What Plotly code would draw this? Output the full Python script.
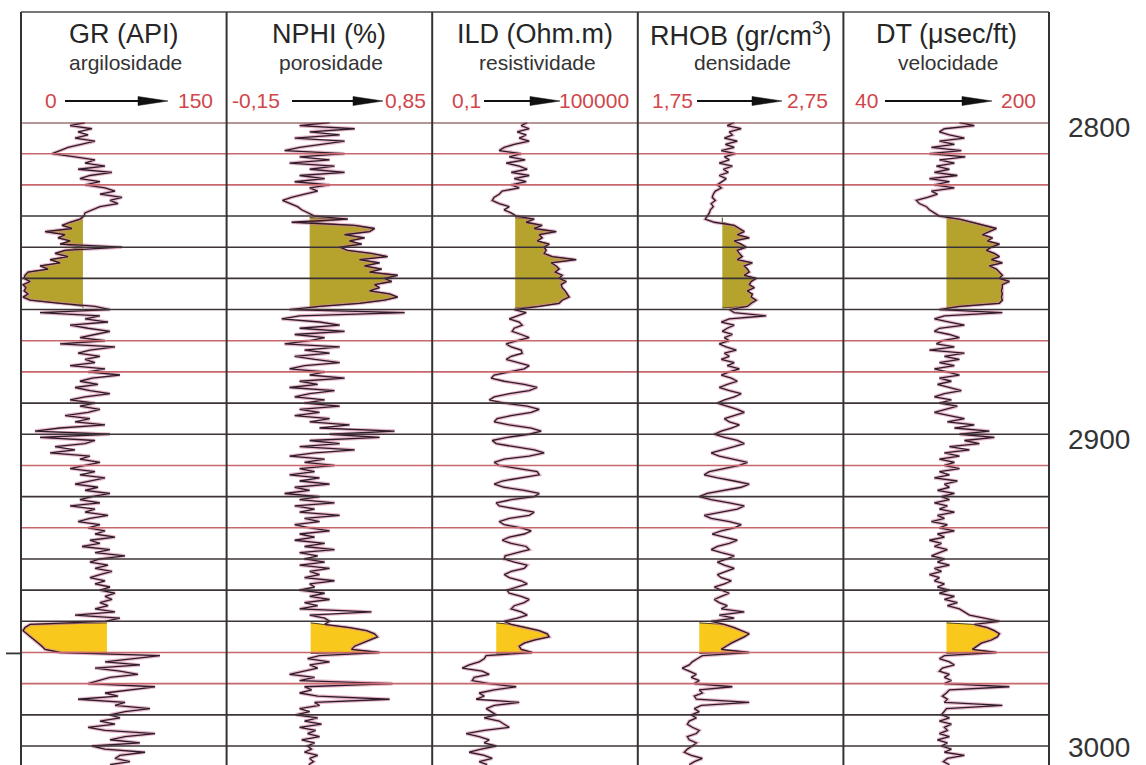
import math
import plotly.graph_objects as go

W, H = 1146, 765

# Depth samples (m), one per metre
depth = list(range(2800, 3007))

# Gamma ray (API)
gr = [46.7, 35.8, 51.8, 41.6, 48.9, 39.4, 54.0, 43.0, 34.3, 28.5,
      22.6, 39.4, 54.0, 46.7, 61.3, 41.6, 66.4, 50.3, 43.0, 57.6,
      46.7, 61.3, 68.6, 57.6, 73.7, 64.9, 70.8, 57.6, 51.8, 46.7,
      46.0, 43.0, 35.8, 29.9, 37.2, 17.5, 32.1, 27.0, 35.8, 28.5,
      73.7, 32.1, 24.8, 34.3, 21.2, 28.5, 13.9, 19.7, 5.1, 2.9,
      2.2, 6.6, 1.5, 3.6, 2.2, 5.1, 1.5, 6.6, 28.5, 54.0,
      64.9, 13.9, 57.6, 46.7, 63.5, 35.8, 48.9, 64.9, 54.0, 43.0,
      61.3, 28.5, 68.6, 50.3, 41.6, 57.6, 46.7, 54.0, 35.8, 61.3,
      48.9, 72.2, 51.8, 43.0, 56.2, 39.4, 50.3, 64.9, 46.7, 35.8,
      54.0, 43.0, 57.6, 48.9, 32.1, 50.3, 39.4, 61.3, 28.5, 10.2,
      64.9, 13.9, 54.0, 46.7, 24.8, 39.4, 21.2, 50.3, 43.0, 57.6,
      46.7, 35.8, 54.0, 43.0, 61.3, 50.3, 39.4, 56.2, 46.7, 64.9,
      51.8, 43.0, 57.6, 35.8, 54.0, 46.7, 63.5, 50.3, 41.6, 57.6,
      48.9, 61.3, 54.0, 68.6, 50.3, 57.6, 44.5, 64.9, 54.0, 75.9,
      57.6, 50.3, 63.5, 54.0, 66.4, 57.6, 50.3, 61.3, 54.0, 64.9,
      57.6, 68.6, 61.3, 66.4, 57.6, 63.5, 54.0, 68.6, 39.4, 72.2,
      61.3, 6.6, 2.9, 1.5, 4.4, 6.6, 10.2, 12.4, 15.3, 17.5,
      28.5, 101.4, 79.5, 61.3, 86.8, 54.0, 72.2, 85.4, 64.9, 57.6,
      48.9, 97.8, 79.5, 61.3, 70.8, 41.6, 75.9, 68.6, 94.1, 75.9,
      64.9, 72.2, 57.6, 68.6, 48.9, 61.3, 97.8, 75.9, 64.9, 86.8,
      51.8, 61.3, 90.5, 72.2, 68.6, 79.5, 64.9]

# Neutron porosity (fraction)
nphi = [0.351, 0.205, 0.473, 0.254, 0.400, 0.181, 0.424, 0.302, 0.205, 0.132,
        0.424, 0.205, 0.351, 0.156, 0.375, 0.254, 0.424, 0.205, 0.327, 0.181,
        0.351, 0.254, 0.293, 0.229, 0.166, 0.122, 0.156, 0.195, 0.215, 0.244,
        0.278, 0.439, 0.166, 0.473, 0.570, 0.546, 0.424, 0.521, 0.448, 0.507,
        0.400, 0.439, 0.555, 0.633, 0.497, 0.594, 0.521, 0.604, 0.546, 0.682,
        0.618, 0.653, 0.570, 0.594, 0.546, 0.643, 0.682, 0.618, 0.497, 0.302,
        0.156, 0.716, 0.205, 0.118, 0.302, 0.400, 0.205, 0.424, 0.181, 0.327,
        0.254, 0.132, 0.400, 0.229, 0.351, 0.181, 0.278, 0.400, 0.229, 0.156,
        0.327, 0.254, 0.424, 0.205, 0.293, 0.156, 0.375, 0.254, 0.181, 0.327,
        0.229, 0.400, 0.205, 0.302, 0.181, 0.351, 0.254, 0.448, 0.302, 0.667,
        0.351, 0.594, 0.254, 0.400, 0.205, 0.473, 0.278, 0.156, 0.327, 0.229,
        0.375, 0.205, 0.278, 0.156, 0.302, 0.205, 0.351, 0.181, 0.254, 0.132,
        0.302, 0.205, 0.375, 0.181, 0.278, 0.205, 0.400, 0.229, 0.302, 0.181,
        0.254, 0.351, 0.205, 0.278, 0.181, 0.327, 0.229, 0.375, 0.205, 0.293,
        0.229, 0.327, 0.205, 0.351, 0.254, 0.302, 0.229, 0.375, 0.254, 0.278,
        0.205, 0.327, 0.254, 0.351, 0.229, 0.293, 0.205, 0.555, 0.254, 0.327,
        0.351, 0.327, 0.448, 0.531, 0.570, 0.584, 0.546, 0.507, 0.473, 0.458,
        0.594, 0.302, 0.244, 0.351, 0.254, 0.293, 0.229, 0.156, 0.278, 0.205,
        0.657, 0.229, 0.263, 0.205, 0.293, 0.643, 0.278, 0.302, 0.205, 0.254,
        0.186, 0.293, 0.229, 0.312, 0.205, 0.283, 0.244, 0.302, 0.215, 0.278,
        0.244, 0.263, 0.229, 0.293, 0.254, 0.273, 0.249]

# Deep induction resistivity (ohm.m)
ild = [59.2, 39.6, 67.7, 30.2, 55.3, 34.6, 67.7, 24.7, 12.6, 9.02,
       39.6, 17.7, 51.8, 14.4, 34.6, 59.2, 20.2, 67.7, 24.7, 55.3,
       20.2, 34.6, 11.0, 9.02, 6.45, 5.64, 9.02, 17.7, 12.6, 20.2,
       28.3, 94.8, 55.3, 162, 94.8, 416, 133, 162, 116, 260,
       185, 212, 185, 318, 1592, 297, 416, 508, 389, 622,
       508, 813, 582, 622, 761, 871, 995, 622, 508, 133,
       24.7, 55.3, 30.2, 17.7, 34.6, 42.3, 24.7, 21.6, 39.6, 67.7,
       30.2, 14.4, 20.2, 39.6, 42.3, 20.2, 14.4, 30.2, 67.7, 48.4,
       15.4, 6.45, 5.27, 12.6, 48.4, 116, 67.7, 17.7, 6.45, 4.61,
       12.6, 59.2, 133, 77.4, 20.2, 7.89, 6.45, 17.7, 77.4, 152,
       67.7, 15.4, 5.64, 7.38, 24.7, 94.8, 185, 67.7, 12.6, 6.45,
       9.02, 34.6, 116, 133, 39.6, 11.0, 6.45, 12.6, 48.4, 133,
       94.8, 20.2, 7.38, 9.02, 30.2, 94.8, 67.7, 17.7, 9.02, 12.6,
       39.6, 77.4, 48.4, 17.7, 11.0, 20.2, 55.3, 67.7, 30.2, 13.5,
       12.6, 24.7, 59.2, 48.4, 20.2, 12.6, 17.7, 39.6, 59.2, 30.2,
       15.4, 17.7, 39.6, 67.7, 48.4, 24.7, 20.2, 39.6, 59.2, 30.2,
       12.6, 20.2, 59.2, 133, 227, 260, 94.8, 48.4, 34.6, 39.6,
       82.8, 3.77, 3.29, 2.35, 1.20, 0.750, 2.88, 4.61, 1.68, 1.47,
       4.61, 28.3, 6.45, 2.35, 3.29, 1.92, 34.6, 6.45, 3.77, 5.27,
       7.38, 3.29, 9.02, 12.6, 17.7, 3.29, 0.98, 2.35, 4.61, 3.29,
       7.38, 2.69, 1.20, 3.29, 5.64, 2.35, 4.03]

# Bulk density (g/cm3)
rhob = [2.219, 2.185, 2.253, 2.195, 2.210, 2.171, 2.234, 2.176, 2.219, 2.156,
        2.224, 2.171, 2.195, 2.146, 2.210, 2.166, 2.190, 2.146, 2.180, 2.156,
        2.137, 2.156, 2.127, 2.117, 2.112, 2.127, 2.107, 2.117, 2.103, 2.098,
        2.088, 2.078, 2.122, 2.219, 2.244, 2.268, 2.234, 2.292, 2.219, 2.253,
        2.278, 2.234, 2.244, 2.258, 2.234, 2.307, 2.268, 2.283, 2.292, 2.268,
        2.326, 2.302, 2.292, 2.317, 2.283, 2.307, 2.302, 2.326, 2.302, 2.283,
        2.195, 2.219, 2.375, 2.195, 2.156, 2.219, 2.185, 2.161, 2.210, 2.171,
        2.195, 2.146, 2.180, 2.229, 2.171, 2.195, 2.156, 2.219, 2.185, 2.244,
        2.195, 2.156, 2.205, 2.234, 2.185, 2.146, 2.195, 2.253, 2.219, 2.171,
        2.137, 2.185, 2.234, 2.268, 2.219, 2.171, 2.195, 2.244, 2.205, 2.156,
        2.122, 2.171, 2.234, 2.268, 2.219, 2.156, 2.107, 2.146, 2.219, 2.283,
        2.244, 2.171, 2.098, 2.073, 2.137, 2.219, 2.292, 2.253, 2.171, 2.088,
        2.049, 2.107, 2.195, 2.268, 2.234, 2.146, 2.073, 2.107, 2.195, 2.253,
        2.219, 2.156, 2.112, 2.171, 2.234, 2.195, 2.137, 2.107, 2.156, 2.219,
        2.185, 2.137, 2.171, 2.219, 2.180, 2.137, 2.156, 2.205, 2.171, 2.122,
        2.156, 2.195, 2.156, 2.122, 2.146, 2.185, 2.156, 2.268, 2.146, 2.219,
        2.107, 2.171, 2.219, 2.253, 2.292, 2.268, 2.234, 2.205, 2.180, 2.156,
        2.292, 2.064, 2.039, 2.015, 2.000, 1.966, 2.000, 2.035, 2.010, 2.049,
        2.025, 2.210, 2.049, 2.064, 2.025, 2.035, 2.292, 2.059, 2.025, 2.049,
        2.010, 2.035, 2.000, 1.991, 2.015, 2.049, 2.035, 1.991, 2.000, 2.035,
        2.015, 1.991, 1.976, 2.010, 2.064, 2.025, 2.000]

# Sonic transit time (us/ft)
dt = [130.3, 141.9, 118.6, 114.7, 122.5, 134.2, 114.7, 126.4, 108.5, 131.8,
      106.9, 134.9, 114.7, 126.4, 112.4, 122.5, 110.8, 128.7, 106.9, 122.5,
      110.8, 126.4, 108.5, 113.2, 105.4, 96.8, 99.1, 104.6, 106.9, 110.8,
      114.7, 130.3, 140.4, 149.7, 159.1, 153.6, 148.2, 156.0, 152.1, 161.4,
      155.2, 151.3, 157.5, 161.4, 155.2, 163.7, 153.6, 159.1, 161.4, 163.7,
      161.4, 169.2, 163.7, 163.7, 163.0, 163.7, 163.0, 163.7, 161.4, 130.3,
      114.7, 163.7, 118.6, 110.8, 122.5, 134.2, 114.7, 110.8, 122.5, 130.3,
      117.0, 112.4, 126.4, 106.9, 134.2, 118.6, 130.3, 114.7, 126.4, 110.8,
      120.9, 130.3, 114.7, 124.0, 113.2, 122.5, 131.8, 118.6, 110.8, 124.0,
      114.7, 128.7, 118.6, 110.8, 122.5, 134.2, 120.9, 141.9, 126.4, 153.6,
      130.3, 157.5, 134.2, 145.8, 122.5, 138.1, 118.6, 130.3, 114.7, 126.4,
      118.6, 130.3, 114.7, 122.5, 110.8, 128.7, 118.6, 122.5, 113.2, 126.4,
      116.3, 122.5, 110.8, 120.9, 114.7, 126.4, 113.2, 118.6, 108.5, 120.9,
      114.7, 126.4, 113.2, 118.6, 106.9, 116.3, 110.8, 120.9, 114.7, 108.5,
      118.6, 113.2, 122.5, 110.8, 116.3, 106.9, 114.7, 110.8, 118.6, 113.2,
      122.5, 114.7, 126.4, 118.6, 128.7, 120.9, 130.3, 134.2, 138.1, 149.7,
      161.4, 141.9, 152.1, 157.5, 161.4, 159.8, 155.2, 147.4, 143.5, 140.4,
      159.1, 118.6, 114.7, 122.5, 126.4, 117.0, 114.7, 122.5, 118.6, 124.0,
      118.6, 169.2, 122.5, 120.2, 117.0, 120.9, 118.6, 163.7, 120.2, 118.6,
      116.3, 122.5, 114.7, 124.0, 118.6, 120.9, 114.7, 122.5, 113.2, 120.9,
      116.3, 124.0, 118.6, 134.2, 120.9, 117.8, 122.5]

track_titles = ["GR (API)", "NPHI (%)", "ILD (Ohm.m)", "RHOB (gr/cm<sup>3</sup>)", "DT (μsec/ft)"]
track_subtitles = ["argilosidade", "porosidade", "resistividade", "densidade", "velocidade"]
scale_left = ["0", "-0,15", "0,1", "1,75", "40"]
scale_right = ["150", "0,85", "100000", "2,75", "200"]
scale_min = [0, -0.15, 0.1, 1.75, 40]
scale_max = [150, 0.85, 100000, 2.75, 200]

# Reservoir intervals (m) and the per-log cutoff used for shading
sand_top = [2830.5, 2960.5]
sand_base = [2859.5, 2970.3]
gr_cutoff = [45.2, 62.7]
nphi_cutoff = [0.254, 0.259]
ild_cutoff = [26.4, 7.4]
rhob_cutoff = [2.161, 2.049]
dt_cutoff = [120.2, 120.2]

depth_labels = [2800, 2900, 3000]
grid_depths = list(range(2800, 3001, 10))

logs = [gr, nphi, ild, rhob, dt]
cutoffs = [gr_cutoff, nphi_cutoff, ild_cutoff, rhob_cutoff, dt_cutoff]
fill_side = [-1, 1, 1, 1, 1]          # GR shades to the left of its cutoff
log_scale = [False, False, True, False, False]

# ---- page geometry (pixels) ----
X0, TW = 21.0, 205.6                   # left frame edge, track width
TRACK_X = [X0 + TW * i for i in range(6)]
HEADER_TOP = 12.0
Y_TOP = 122.5                          # pixel row of 2800 m
PX_PER_M = 3.1175
D_BOTTOM = 2800 + (H - Y_TOP) / PX_PER_M


def px(x):
    return x / W


def py(y):
    return 1 - y / H


SAND_COLORS = ["#b6a32d", "#f9c81c"]
CURVE_CORE = "#2e1c2a"
CURVE_HALO = "rgba(214,128,160,0.55)"
RED_TXT = "#d0464a"

fig = go.Figure()

for i, vals in enumerate(logs):
    ax = "x" if i == 0 else f"x{i + 1}"
    # shaded reservoir intervals
    for k in range(len(sand_top)):
        c = cutoffs[i][k]
        xs, ys = [c], [sand_top[k]]
        for d, v in zip(depth, vals):
            if sand_top[k] < d < sand_base[k]:
                xs.append(max(v, c) if fill_side[i] > 0 else min(v, c))
                ys.append(d)
        xs.append(c)
        ys.append(sand_base[k])
        fig.add_trace(go.Scatter(x=xs, y=ys, xaxis=ax, yaxis="y", mode="lines",
                                 fill="toself", fillcolor=SAND_COLORS[k],
                                 line=dict(color="#4d3f18", width=1),
                                 hoverinfo="skip", showlegend=False))
    # log curve: soft halo + dark core
    fig.add_trace(go.Scatter(x=vals, y=depth, xaxis=ax, yaxis="y", mode="lines",
                             line=dict(color=CURVE_HALO, width=3.6),
                             hoverinfo="skip", showlegend=False))
    fig.add_trace(go.Scatter(x=vals, y=depth, xaxis=ax, yaxis="y", mode="lines",
                             line=dict(color=CURVE_CORE, width=1.3),
                             hoverinfo="skip", showlegend=False))

layout = dict(
    width=W, height=H,
    margin=dict(l=0, r=0, t=0, b=0),
    paper_bgcolor="white", plot_bgcolor="white",
    showlegend=False,
    yaxis=dict(domain=[0, py(Y_TOP)], range=[D_BOTTOM, 2800], visible=False, anchor="x"),
)
for i in range(5):
    key = "xaxis" if i == 0 else f"xaxis{i + 1}"
    if log_scale[i]:
        rng = [math.log10(scale_min[i]), math.log10(scale_max[i])]
        layout[key] = dict(type="log", range=rng)
    else:
        layout[key] = dict(range=[scale_min[i], scale_max[i]])
    layout[key].update(domain=[px(TRACK_X[i]), px(TRACK_X[i + 1])], anchor="y", visible=False)
fig.update_layout(**layout)

shapes = []
# depth grid lines
red_lines = {2810, 2820, 2870, 2880, 2910, 2930, 2970, 2980}
for d in grid_depths:
    if d == 2800:
        col, w = "#6e2c30", 2.2
    elif d in red_lines:
        col, w = "#c8676c", 1.6
    else:
        col, w = "#3c3436", 1.6
    shapes.append(dict(type="line", xref="paper", yref="y", x0=px(X0), x1=px(TRACK_X[-1]),
                       y0=d, y1=d, line=dict(color=col, width=w), layer="above"))
# header top border and track separators
shapes.append(dict(type="line", xref="paper", yref="paper", x0=px(X0), x1=px(TRACK_X[-1]),
                   y0=py(HEADER_TOP), y1=py(HEADER_TOP), line=dict(color="#4a4a4a", width=1.6)))
for x in TRACK_X:
    shapes.append(dict(type="line", xref="paper", yref="paper", x0=px(x), x1=px(x),
                       y0=0, y1=py(HEADER_TOP), line=dict(color="#333333", width=2), layer="above"))
# small marker at the base of the lower reservoir
shapes.append(dict(type="line", xref="paper", yref="y", x0=px(6), x1=px(X0),
                   y0=sand_base[1], y1=sand_base[1], line=dict(color="#333333", width=1.8)))

# scale arrows in the header
arrow_spans = [(65, 168), (292, 383), (484, 560), (697, 782), (885, 992)]
ARROW_Y = 101
for x0, x1 in arrow_spans:
    head = x1 - 30
    shapes.append(dict(type="line", xref="paper", yref="paper", x0=px(x0), x1=px(head + 2),
                       y0=py(ARROW_Y), y1=py(ARROW_Y), line=dict(color="#111111", width=1.8)))
    path = (f"M {px(head)},{py(ARROW_Y - 4.5)} L {px(x1)},{py(ARROW_Y)} "
            f"L {px(head)},{py(ARROW_Y + 4.5)} Z")
    shapes.append(dict(type="path", xref="paper", yref="paper", path=path,
                       fillcolor="#111111", line=dict(color="#111111", width=0.5)))
fig.update_layout(shapes=shapes)

FONT = "Liberation Sans, Arial, sans-serif"
ann = []
left_lbl_x = [43, 230, 450, 650, 853]
right_lbl_x = [215, 428, 631, 830, 1038]
for i in range(5):
    cx = (TRACK_X[i] + TRACK_X[i + 1]) / 2
    ann.append(dict(text=track_titles[i], x=px(cx), y=py(34), xref="paper", yref="paper",
                    xanchor="center", yanchor="middle", showarrow=False,
                    font=dict(family=FONT, size=27, color="#262626")))
    ann.append(dict(text=track_subtitles[i], x=px(cx + 2), y=py(62), xref="paper", yref="paper",
                    xanchor="center", yanchor="middle", showarrow=False,
                    font=dict(family=FONT, size=21, color="#333333")))
    ann.append(dict(text=scale_left[i], x=px(left_lbl_x[i]), y=py(ARROW_Y), xref="paper",
                    yref="paper", xanchor="left", yanchor="middle", showarrow=False,
                    font=dict(family=FONT, size=21, color=RED_TXT)))
    ann.append(dict(text=scale_right[i], x=px(right_lbl_x[i]), y=py(ARROW_Y), xref="paper",
                    yref="paper", xanchor="right", yanchor="middle", showarrow=False,
                    font=dict(family=FONT, size=21, color=RED_TXT)))
for d in depth_labels:
    shift = -5 if d < 3000 else -1
    ann.append(dict(text=str(d), x=px(1067), y=d, xref="paper", yref="y",
                    xanchor="left", yanchor="middle", yshift=shift, showarrow=False,
                    borderpad=0, font=dict(family=FONT, size=28, color="#333333")))
fig.update_layout(annotations=ann)

fig.write_html("out.html")
